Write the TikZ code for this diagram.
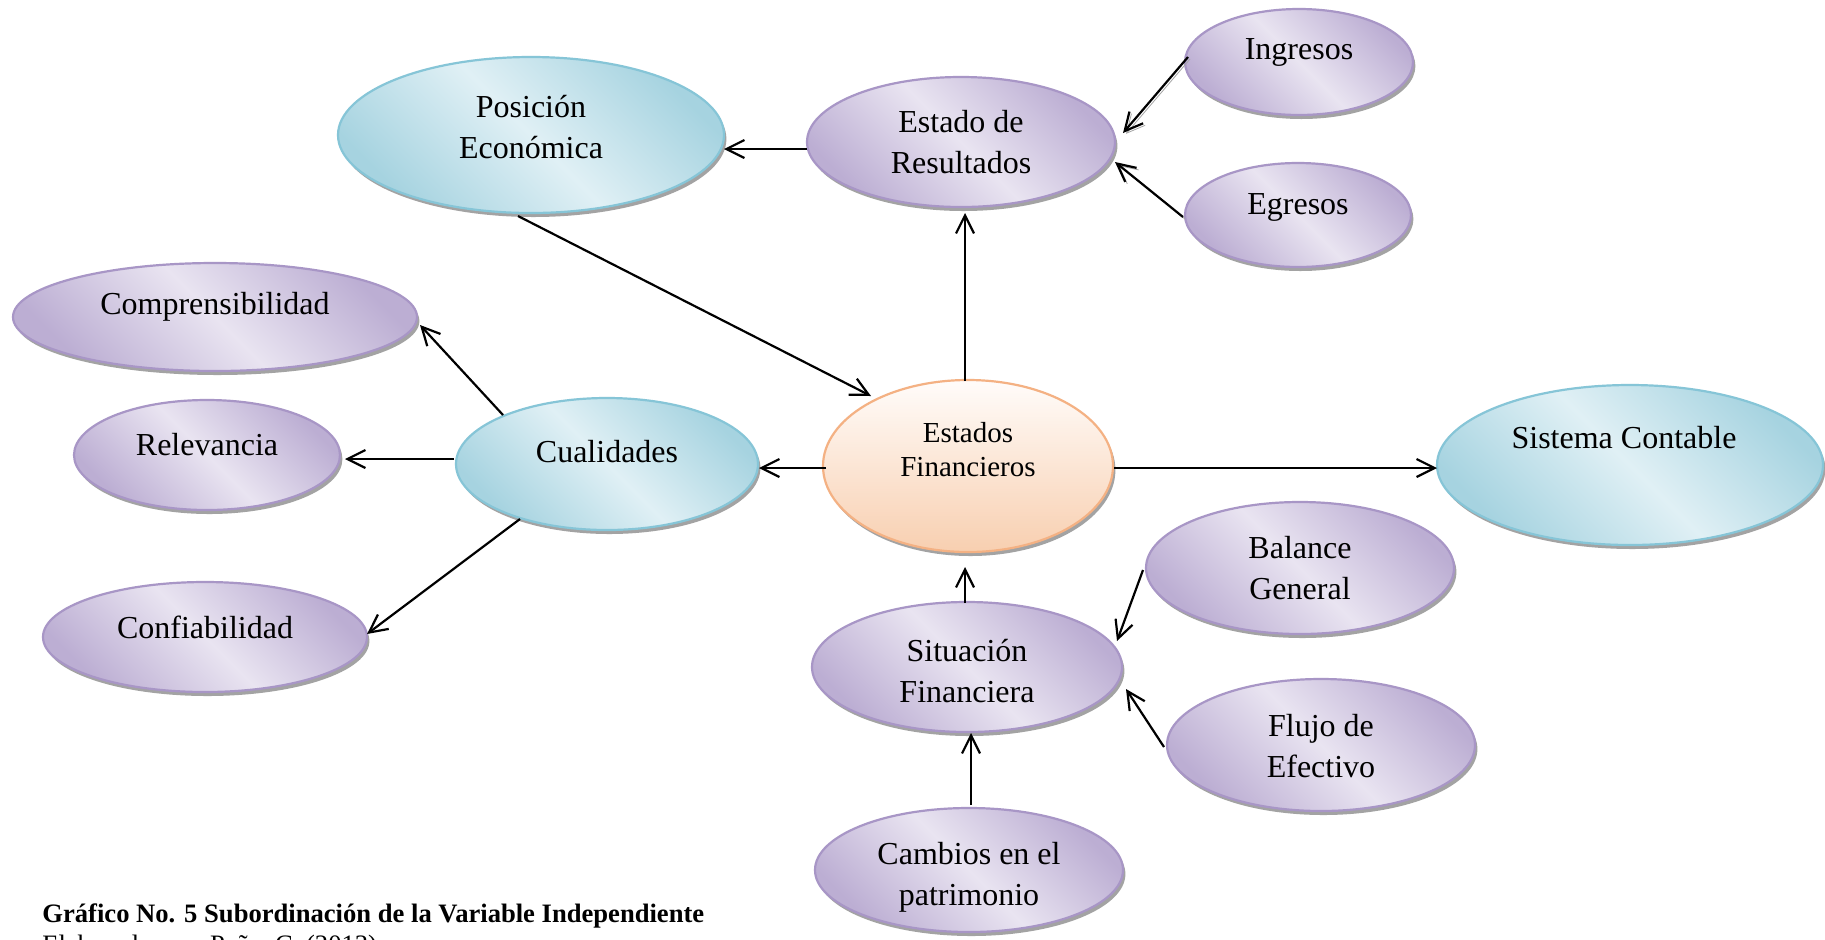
\documentclass[tikz,border=0pt]{standalone}
\usepackage{fontspec}
\setmainfont{Liberation Serif}
\usetikzlibrary{arrows.meta,shadows,calc,shapes.geometric}

\definecolor{bluedark}{HTML}{A6D3E0}
\definecolor{bluelight}{HTML}{E0F0F5}
\definecolor{blueline}{HTML}{86C5D7}
\definecolor{purpdark}{HTML}{BCAED3}
\definecolor{purplight}{HTML}{E9E4F1}
\definecolor{purpline}{HTML}{A896C6}
\definecolor{orgtop}{HTML}{FFFCFA}
\definecolor{orgbot}{HTML}{F8CFB0}
\definecolor{orgline}{HTML}{F4B183}

% diagonal two-tone fills: dark at two opposite corners, light through the middle
\pgfdeclareverticalshading{blueshade}{100bp}{color(0bp)=(bluedark); color(25bp)=(bluedark); color(50bp)=(bluelight); color(75bp)=(bluedark); color(100bp)=(bluedark)}
\pgfdeclareverticalshading{purpshade}{100bp}{color(0bp)=(purpdark); color(25bp)=(purpdark); color(50bp)=(purplight); color(75bp)=(purpdark); color(100bp)=(purpdark)}

\tikzset{
  ell/.style={ellipse, inner sep=0pt, line width=1.1pt,
    drop shadow={shadow xshift=1.2pt, shadow yshift=-2pt, fill=black!45, opacity=0.8}},
  blueell/.style={ell, draw=blueline, shading=blueshade, shading angle=-45},
  purpell/.style={ell, draw=purpline, shading=purpshade, shading angle=-45},
  orgell/.style={ell, draw=orgline, top color=orgtop, bottom color=orgbot},
  lbl/.style={align=center, inner sep=0pt, font=\fontsize{16}{20.5}\selectfont},
  lblsmall/.style={align=center, inner sep=0pt, font=\fontsize{14.5}{17}\selectfont},
  arr/.style={line width=1.1pt, -{Straight Barb[length=9pt,width=9pt,line width=1.1pt]}},
  sarr/.style={arr, preaction={draw=black!35, transform canvas={xshift=1pt,yshift=-1pt}}},
  captxt/.style={anchor=base west, inner sep=0pt, font=\fontsize{13.3}{15}\selectfont},
}

\begin{document}
\begin{tikzpicture}[x=0.5pt, y=-0.5pt]
  \fill[white] (0,0) rectangle (1825,939);
  \useasboundingbox (0,0) rectangle (1825,939);
  \clip (0,0) rectangle (1825,939);

  % ellipses (minimum width/height in pt equal the radii in units)
  \node[blueell, minimum width=193pt, minimum height=78pt] (pe) at (531,135) {};
  \node[purpell, minimum width=154pt, minimum height=65pt] (er) at (961,142) {};
  \node[purpell, minimum width=114pt, minimum height=53pt] (ing) at (1299,62) {};
  \node[purpell, minimum width=113pt, minimum height=52pt] (egr) at (1298,215) {};
  \node[purpell, minimum width=202pt, minimum height=54pt] (comp) at (215,317) {};
  \node[purpell, minimum width=133pt, minimum height=55pt] (rel) at (207,455) {};
  \node[purpell, minimum width=162pt, minimum height=55pt] (conf) at (205,637) {};
  \node[blueell, minimum width=151pt, minimum height=66pt] (cual) at (607,464) {};
  \node[orgell, minimum width=145pt, minimum height=86pt] (ef) at (968,466) {};
  \node[blueell, minimum width=193pt, minimum height=80pt] (sc) at (1630,465) {};
  \node[purpell, minimum width=154pt, minimum height=66pt] (bg) at (1300,568) {};
  \node[purpell, minimum width=154pt, minimum height=66pt] (fe) at (1321,745) {};
  \node[purpell, minimum width=155pt, minimum height=65pt] (sf) at (967,667) {};
  \node[purpell, minimum width=154pt, minimum height=62pt] (cp) at (969,870) {};

  % labels
  \node[lbl] (pe-t) at (531,127) {Posición\\Económica};
  \node[lbl] (er-t) at (961,142) {Estado de\\Resultados};
  \node[lbl] (ing-t) at (1299,52) {Ingresos};
  \node[lbl] (egr-t) at (1298,207) {Egresos};
  \node[lbl] (comp-t) at (215,307) {Comprensibilidad};
  \node[lbl] (rel-t) at (207,445) {Relevancia};
  \node[lbl] (conf-t) at (205,627) {Confiabilidad};
  \node[lbl] (cual-t) at (607,452) {Cualidades};
  \node[lblsmall] (ef-t) at (968,450) {Estados\\Financieros};
  \node[lbl] (sc-t) at (1624,438) {Sistema Contable};
  \node[lbl] (bg-t) at (1300,568) {Balance\\General};
  \node[lbl] (fe-t) at (1321,746) {Flujo de\\Efectivo};
  \node[lbl] (sf-t) at (967,671) {Situación\\Financiera};
  \node[lbl] (cp-t) at (969,877) {Cambios en el\\patrimonio};

  % connectors
  \draw[arr] ($(er)+(-154,7)$) -- ($(pe)+(193,14)$);
  \draw[arr] ($(pe)+(-13,81)$) -- ($(ef)+(-97,-70)$);
  \draw[arr] ($(ef)+(-3,-85)$) -- ($(er)+(4,71)$);
  \draw[arr] ($(ef)+(-142,2)$) -- ($(cual)+(152,4)$);
  \draw[arr] ($(ef)+(146,2)$) -- ($(sc)+(-193,3)$);
  \draw[arr] ($(sf)+(-2,-64)$) -- ($(ef)+(-3,101)$);
  \draw[arr] ($(cual)+(-104,-49)$) -- ($(comp)+(205,8)$);
  \draw[arr] ($(cual)+(-153,-5)$) -- ($(rel)+(138,4)$);
  \draw[arr] ($(cual)+(-87,55)$) -- ($(conf)+(162,-3)$);
  \draw[arr] ($(bg)+(-157,2)$) -- ($(sf)+(150,-26)$);
  \draw[arr] ($(fe)+(-157,2)$) -- ($(sf)+(159,22)$);
  \draw[arr] ($(cp)+(2,-65)$) -- ($(sf)+(4,66)$);
  \draw[sarr] ($(ing)+(-111,-5)$) -- ($(er)+(162,-9)$);
  \draw[sarr] ($(egr)+(-115,2)$) -- ($(er)+(154,20)$);

  % caption
  \node[captxt, font=\bfseries\fontsize{13.3}{15}\selectfont] (cap) at (42,922)
    {Gráfico No. 5 Subordinación de la Variable Independiente};
  \node[captxt] (src) at (42,953) {Elaborado por: Peña, C. (2013)};
\end{tikzpicture}
\end{document}
